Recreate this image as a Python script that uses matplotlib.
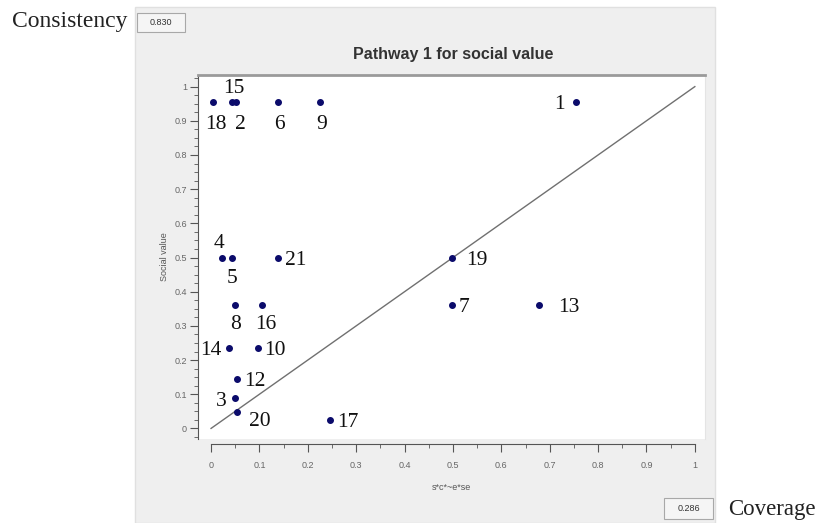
import matplotlib.pyplot as plt
from matplotlib.patches import Rectangle
from matplotlib.ticker import MultipleLocator, FuncFormatter

# case labels and their fuzzy scores
cases = ['1', '2', '3', '4', '5', '6', '7', '8', '9', '10',
         '12', '13', '14', '15', '16', '17', '18', '19', '20', '21']
x_score = [0.754, 0.052, 0.049, 0.023, 0.043, 0.138, 0.497, 0.050, 0.226, 0.098,
           0.054, 0.677, 0.037, 0.043, 0.106, 0.246, 0.005, 0.498, 0.054, 0.138]
y_social = [0.955, 0.955, 0.090, 0.500, 0.500, 0.955, 0.360, 0.360, 0.955, 0.235,
            0.145, 0.360, 0.235, 0.955, 0.360, 0.026, 0.955, 0.500, 0.048, 0.500]

consistency = '0.830'
coverage = '0.286'

# label placement (pixel offsets from the dot, horizontal alignment)
label_pos = {
    '1': (-11, 0, 'right'), '2': (4, -20, 'center'), '3': (-8, -1, 'right'),
    '4': (-3, 17, 'center'), '5': (0, -18, 'center'), '6': (2, -20, 'center'),
    '7': (7, 0, 'left'), '8': (0, -17, 'center'), '9': (1, -20, 'center'),
    '10': (6, 0, 'left'), '12': (7, 0, 'left'), '13': (20, 0, 'left'),
    '14': (-7, 0, 'right'), '15': (2, 16, 'center'), '16': (3, -17, 'center'),
    '17': (7, 0, 'left'), '18': (2, -20, 'center'), '19': (14, 0, 'left'),
    '20': (12, -7, 'left'), '21': (7, 0, 'left'),
}

W, H = 817, 523
SERIF = 'Liberation Serif'
SANS = 'Liberation Sans'

def fx(px):
    return px / W

def fy(py):
    return 1 - py / H

fig = plt.figure(figsize=(W / 100, H / 100), dpi=100)

# grey panel behind the chart
fig.patches.append(Rectangle((fx(135), fy(523)), fx(715) - fx(135), fy(7) - fy(523),
                             transform=fig.transFigure, facecolor='#efefef',
                             edgecolor='#e0e0e0', lw=1, zorder=-5))

ax = fig.add_axes([fx(198), fy(439), fx(705) - fx(198), fy(75) - fy(439)])
ax.set_zorder(2)
ax.set_xlim(-0.027, 1.021)
ax.set_ylim(-0.031, 1.034)

ax.plot([0, 1], [0, 1], color='#707070', lw=1, zorder=2)
ax.plot(x_score, y_social, 'o', color='#0b0b6b', ms=4.0, zorder=3)

for name, xv, yv in zip(cases, x_score, y_social):
    dx, dy, ha = label_pos[name]
    ax.annotate(name, (xv, yv), xytext=(dx, dy), textcoords='offset pixels',
                ha=ha, va='center_baseline', fontsize=15.5, family=SERIF,
                color='#111111', zorder=4)

# spines
ax.spines['top'].set_color('#9a9a9a')
ax.spines['top'].set_linewidth(2)
ax.spines['right'].set_color('#e4e4e4')
ax.spines['left'].set_color('#555555')
ax.spines['bottom'].set_color('#555555')
ax.spines['bottom'].set_position(('outward', 3.6))
ax.spines['bottom'].set_bounds(0, 1)

fmt = FuncFormatter(lambda v, p: ('%g' % round(v, 2)))
ax.xaxis.set_major_locator(MultipleLocator(0.1))
ax.xaxis.set_minor_locator(MultipleLocator(0.05))
ax.yaxis.set_major_locator(MultipleLocator(0.1))
ax.yaxis.set_minor_locator(MultipleLocator(0.025))
ax.xaxis.set_major_formatter(fmt)
ax.yaxis.set_major_formatter(fmt)

ax.tick_params(axis='x', which='major', direction='out', length=5.5, color='#555555',
               labelsize=6.5, labelcolor='#666666', pad=7)
ax.tick_params(axis='x', which='minor', direction='out', length=3, color='#555555')
ax.tick_params(axis='y', which='major', direction='out', length=6, color='#555555',
               labelsize=6.5, labelcolor='#666666', pad=2)
ax.tick_params(axis='y', which='minor', direction='out', length=3, color='#555555')
for lab in ax.get_xticklabels() + ax.get_yticklabels():
    lab.set_family(SANS)

ax.set_xlabel('s*c*~e*se', fontsize=6.5, color='#555555', family=SANS, labelpad=9)
ax.set_ylabel('Social value', fontsize=6.5, color='#555555', family=SANS, labelpad=4)

fig.text(fx(453), fy(54), 'Pathway 1 for social value', ha='center', va='center',
         fontsize=11.5, fontweight='bold', family=SANS, color='#333333')

# consistency / coverage boxes
fig.text(fx(128), fy(22), 'Consistency', ha='right', va='center',
         fontsize=17, family=SERIF, color='#222222')
fig.patches.append(Rectangle((fx(137), fy(32)), fx(185) - fx(137), fy(13) - fy(32),
                             transform=fig.transFigure, facecolor='#f5f5f5',
                             edgecolor='#a8a8a8', lw=0.8, zorder=1))
fig.text(fx(161), fy(22.5), consistency, ha='center', va='center',
         fontsize=6.5, family=SANS, color='#333333')

fig.patches.append(Rectangle((fx(664), fy(519)), fx(713) - fx(664), fy(498) - fy(519),
                             transform=fig.transFigure, facecolor='#f5f5f5',
                             edgecolor='#a8a8a8', lw=0.8, zorder=1))
fig.text(fx(688.5), fy(508.5), coverage, ha='center', va='center',
         fontsize=6.5, family=SANS, color='#333333')
fig.text(fx(728), fy(509), 'Coverage', ha='left', va='center',
         fontsize=16.5, family=SERIF, color='#222222')

fig.savefig('out.png', dpi=100)
